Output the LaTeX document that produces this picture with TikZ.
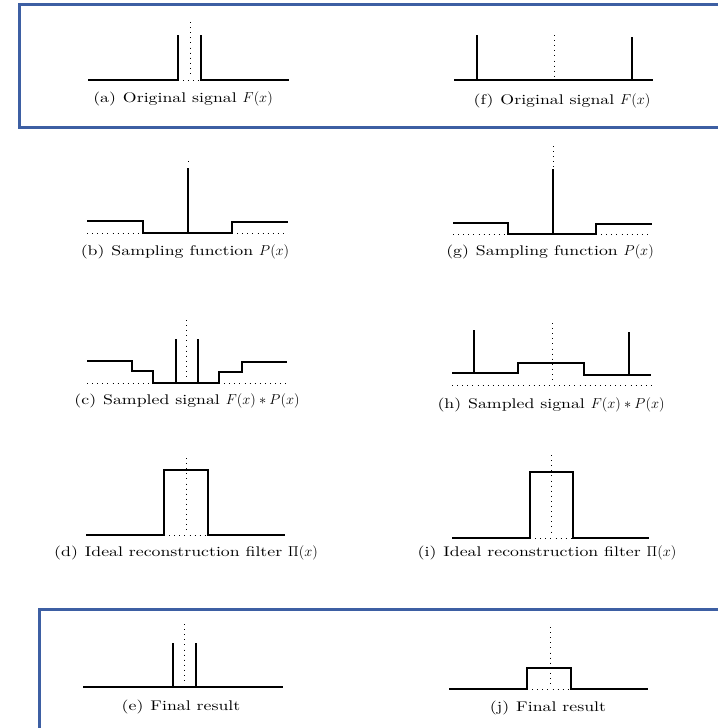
\documentclass[tikz,border=0pt]{standalone}
\usepackage{fontspec}
\usepackage{tikz}
\newfontfamily\capfont{lmroman10-regular.otf}[FakeStretch=1.27]
\definecolor{frameblue}{HTML}{3D5FA3}
\tikzset{
  sig/.style={line width=1.6pt, line join=miter},
  guide/.style={line width=0.9pt, dash pattern=on 0.9pt off 4.2pt},
  frame/.style={draw=frameblue, line width=3pt},
  capt/.style={font={\capfont\fontsize{14}{16}\selectfont}, inner sep=0pt}
}

\begin{document}
\begin{tikzpicture}[x=1pt,y=-1pt]
  \useasboundingbox (0,0) rectangle (718,728);
  \draw[frame] (718,4) -- (19,4) -- (19,127) -- (718,127);
  \draw[frame] (718,609) -- (39,609) -- (39,728);

  % (a)
  \draw[sig] (88,80) -- (178,80) -- (178,35);
  \draw[sig] (201,35) -- (201,80) -- (289,80);
  \draw[guide] (178,80) -- (201,80);
  \draw[guide] (190,22) -- (190,78);
  \node[capt] (capA) at (183,99) {(a)\enskip Original signal $F(x)$};

  % (f)
  \draw[sig] (454,80) -- (653,80);
  \draw[sig] (477,80) -- (477,35);
  \draw[sig] (632,80) -- (632,37);
  \draw[guide] (554,35) -- (554,78);
  \node[capt] (capF) at (562,101) {(f)\enskip Original signal $F(x)$};

  % (b)
  \draw[sig] (87,221) -- (143,221) -- (143,233) -- (232,233) -- (232,222) -- (288,222);
  \draw[sig] (188,233) -- (188,168);
  \draw[guide] (188,161) -- (188,166);
  \draw[guide] (87,233) -- (143,233) (232,233) -- (288,233);
  \node[capt] (capB) at (185,252) {(b)\enskip Sampling function $P(x)$};

  % (g)
  \draw[sig] (453,223) -- (508,223) -- (508,234) -- (596,234) -- (596,224) -- (652,224);
  \draw[sig] (553,234) -- (553,169);
  \draw[guide] (553,146) -- (553,167);
  \draw[guide] (453,234) -- (508,234) (596,234) -- (652,234);
  \node[capt] (capG) at (550,252) {(g)\enskip Sampling function $P(x)$};

  % (c)
  \draw[sig] (87,361) -- (132,361) -- (132,371) -- (153,371) -- (153,383) -- (219,383)
             -- (219,372) -- (242,372) -- (242,362) -- (287,362);
  \draw[sig] (176,383) -- (176,339);
  \draw[sig] (198,383) -- (198,339);
  \draw[guide] (186,320) -- (186,381);
  \draw[guide] (87,383) -- (153,383) (219,383) -- (287,383);
  \node[capt] (capC) at (187,401) {(c)\enskip Sampled signal $F(x) \ast P(x)$};

  % (h)
  \draw[sig] (452,373) -- (518,373) -- (518,363) -- (584,363) -- (584,375) -- (651,375);
  \draw[sig] (474,373) -- (474,330);
  \draw[sig] (629,375) -- (629,332);
  \draw[guide] (552,323) -- (552,380);
  \draw[guide] (452,385) -- (651,385);
  \node[capt] (capH) at (551,405) {(h)\enskip Sampled signal $F(x) \ast P(x)$};

  % (d)
  \draw[sig] (86,535) -- (164,535) -- (164,470) -- (208,470) -- (208,535) -- (285,535);
  \draw[guide] (186,458) -- (186,530);
  \draw[guide] (164,535) -- (208,535);
  \node[capt] (capD) at (186,553) {(d)\enskip Ideal reconstruction filter $\Pi(x)$};

  % (i)
  \draw[sig] (452,538) -- (530,538) -- (530,472) -- (573,472) -- (573,538) -- (649,538);
  \draw[guide] (551,455) -- (551,536);
  \draw[guide] (530,538) -- (573,538);
  \node[capt] (capI) at (547,553) {(i)\enskip Ideal reconstruction filter $\Pi(x)$};

  % (e)
  \draw[sig] (83,687) -- (283,687);
  \draw[sig] (173,687) -- (173,643);
  \draw[sig] (196,687) -- (196,643);
  \draw[guide] (184,624) -- (184,682);
  \node[capt] (capE) at (181,707) {(e)\enskip Final result};

  % (j)
  \draw[sig] (449,689) -- (527,689) -- (527,668) -- (571,668) -- (571,689) -- (648,689);
  \draw[guide] (550,627) -- (550,687);
  \draw[guide] (527,689) -- (571,689);
  \node[capt] (capJ) at (548,708) {(j)\enskip Final result};
\end{tikzpicture}
\end{document}
